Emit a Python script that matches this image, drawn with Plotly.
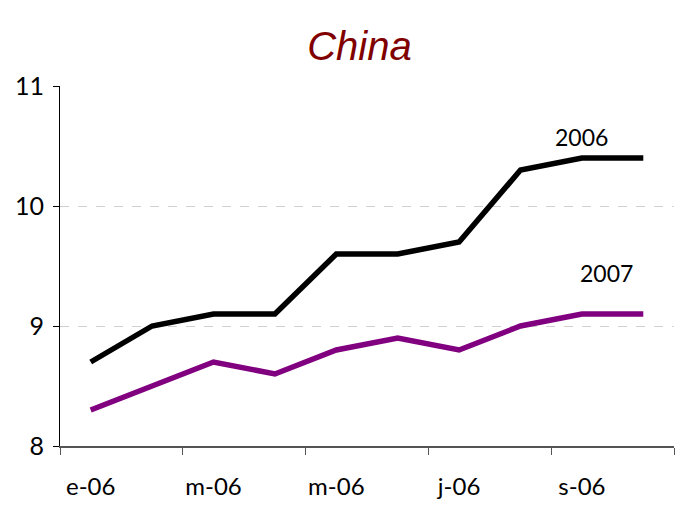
import plotly.graph_objects as go

months = ["e-06", "f-06", "m-06", "a-06", "m-06", "j-06", "j-06", "a-06", "s-06", "o-06"]
serie_2006 = [8.7, 9.0, 9.1, 9.1, 9.6, 9.6, 9.7, 10.3, 10.4, 10.4]
serie_2007 = [8.3, 8.5, 8.7, 8.6, 8.8, 8.9, 8.8, 9.0, 9.1, 9.1]

FONT = "Lato, 'DejaVu Sans', sans-serif"
xs = list(range(len(months)))

fig = go.Figure()
fig.add_trace(go.Scatter(x=xs, y=serie_2006, mode="lines", name="2006",
                         line=dict(color="black", width=5.5)))
fig.add_trace(go.Scatter(x=xs, y=serie_2007, mode="lines", name="2007",
                         line=dict(color="#800080", width=5.5)))

fig.add_annotation(x=8, y=10.575, text="2006", showarrow=False,
                   font=dict(family=FONT, size=23, color="black"))
fig.add_annotation(x=8.4, y=9.44, text="2007", showarrow=False,
                   font=dict(family=FONT, size=23, color="black"))

fig.update_layout(
    width=696, height=516,
    margin=dict(l=52, r=30, t=78, b=78),
    plot_bgcolor="white", paper_bgcolor="white",
    showlegend=False,
    title=dict(text="<i>China</i>", x=0.505, y=0.927, xanchor="center", yanchor="middle",
               font=dict(family="Liberation Sans, Arial, sans-serif", size=40, color="#800000")),
    xaxis=dict(
        range=[-0.5, 9.5], showgrid=False, zeroline=False, automargin=False,
        tickvals=xs[::2], ticktext=months[::2], ticks="",
        tickfont=dict(family=FONT, size=24, color="black"),
        showline=True, linecolor="#555", linewidth=1.5,
        minor=dict(tickvals=[-0.5, 1.5, 3.5, 5.5, 7.5, 9.5], ticks="outside",
                   ticklen=7, tickcolor="#555", showgrid=False),
        ticklabelstandoff=18,
    ),
    yaxis=dict(
        range=[8, 11], tickvals=[8, 9, 10, 11], ticks="outside", ticklen=6,
        tickcolor="black", showline=True, linecolor="black", linewidth=1,
        showgrid=True, gridcolor="#d0d0d0", griddash="dash", gridwidth=1,
        zeroline=False, ticklabelstandoff=4, automargin=False,
        tickfont=dict(family=FONT, size=25, color="black"),
    ),
)

fig.write_html("out.html")
